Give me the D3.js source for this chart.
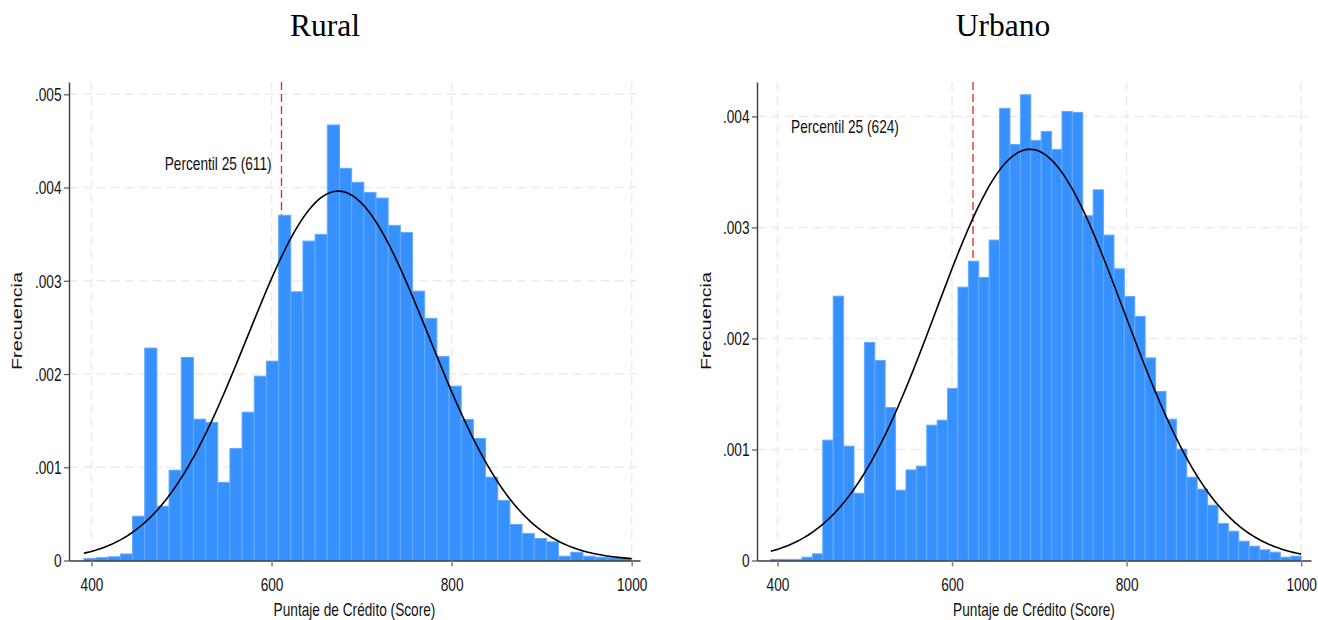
<!DOCTYPE html>
<html><head><meta charset="utf-8">
<script src="https://cdn.jsdelivr.net/npm/d3@7"></script>
<style>body{margin:0;background:#fff;} svg{display:block;background:#fff;}</style>
</head><body><svg id="chart" width="1318" height="620"></svg>
<script>
// ---------------- DATA ----------------
const panelTitles = ["Rural", "Urbano"];
const xTickValues = [400, 600, 800, 1000];
const ruralYTicks = [0, 0.001, 0.002, 0.003, 0.004, 0.005];
const urbanYTicks = [0, 0.001, 0.002, 0.003, 0.004];
const ruralBinStart = 391.5, ruralBinWidth = 13.52;
const urbanBinStart = 392.3, urbanBinWidth = 11.916;
const ruralDensity = [0.00002,0.00003,0.00004,0.00007,0.000475,0.002278,0.000583,0.000969,0.002178,0.001516,
  0.001481,0.000837,0.001202,0.001591,0.001977,0.002138,0.003702,0.002882,0.003426,0.003498,
  0.004671,0.004206,0.004056,0.003948,0.003887,0.003594,0.003519,0.002889,0.002597,0.002189,
  0.00187,0.001513,0.001309,0.000894,0.000644,0.000386,0.00029,0.000236,0.0002,0.000046,
  0.000089,0.000046,0.000035,0.00003,0.00002];
const urbanDensity = [0.00001,0.00001,0.00001,0.00003,0.00006,0.001084,0.002381,0.00103,0.000606,0.001964,
  0.001802,0.001378,0.000633,0.000816,0.00085,0.001219,0.001264,0.00155,0.002462,0.002696,
  0.00255,0.002886,0.004072,0.003748,0.004195,0.003784,0.003865,0.003703,0.004045,0.004036,
  0.003105,0.003339,0.002931,0.002627,0.002378,0.002198,0.001825,0.001523,0.001273,0.001003,
  0.00075,0.000642,0.000498,0.000333,0.000264,0.000174,0.000129,0.000096,0.000075,0.00003,0.000039];
const percentile25 = [611, 624];
const percentileLabels = ["Percentil 25 (611)", "Percentil 25 (624)"];
const normalMean = [674, 689.2];
const normalSD = [100.7, 107.7];
const xAxisTitle = "Puntaje de Crédito (Score)";
const yAxisTitle = "Frecuencia";

// ---------------- LAYOUT ----------------
const panels = [
  { title: panelTitles[0], bins: ruralDensity, start: ruralBinStart, width: ruralBinWidth, yTicks: ruralYTicks,
    p25: percentile25[0], label: percentileLabels[0], mean: normalMean[0], sd: normalSD[0],
    left: 69, right: 640, xDom: [375, 1009.2], yMax: 0.005132, titleX: 325, yTitleX: 21.5,
    labelPos: [600, 0.004193], labelAnchor: "end" },
  { title: panelTitles[1], bins: urbanDensity, start: urbanBinStart, width: urbanBinWidth, yTicks: urbanYTicks,
    p25: percentile25[1], label: percentileLabels[1], mean: normalMean[1], sd: normalSD[1],
    left: 757, right: 1311, xDom: [376.5, 1011.3], yMax: 0.00431, titleX: 1003, yTitleX: 710.5,
    labelPos: [415.5, 0.003851], labelAnchor: "start" }
];
const plotTop = 82, plotBottom = 560.5;
const NARROW = 0.76;
const smallFont = "18px";
const sansFam = "'Liberation Sans', Arial, sans-serif";

const svg = d3.select("#chart");

panels.forEach(p => {
  const g = svg.append("g");
  const x = d3.scaleLinear().domain(p.xDom).range([p.left, p.right]);
  const y = d3.scaleLinear().domain([0, p.yMax]).range([plotBottom, plotTop]);

  // grid
  g.append("g").selectAll("line").data(p.yTicks.filter(v => v > 0)).join("line")
    .attr("x1", p.left).attr("x2", p.right - 3).attr("y1", d => y(d)).attr("y2", d => y(d))
    .attr("stroke", "#ebebeb").attr("stroke-width", 1.5).attr("stroke-dasharray", "9,5");
  g.append("g").selectAll("line").data(xTickValues).join("line")
    .attr("x1", d => x(d)).attr("x2", d => x(d)).attr("y1", plotTop).attr("y2", plotBottom)
    .attr("stroke", "#ebebeb").attr("stroke-width", 1.5).attr("stroke-dasharray", "9,5");

  // percentile line
  g.append("line").attr("x1", x(p.p25)).attr("x2", x(p.p25)).attr("y1", plotTop).attr("y2", plotBottom)
    .attr("stroke", "#e3222a").attr("stroke-width", 1.3).attr("stroke-dasharray", "8,4");

  // bars
  g.append("g").selectAll("rect").data(p.bins).join("rect")
    .attr("x", (d, i) => x(p.start + i * p.width))
    .attr("width", (d, i) => x(p.start + (i + 1) * p.width) - x(p.start + i * p.width))
    .attr("y", d => y(d)).attr("height", d => plotBottom - y(d))
    .attr("fill", "#3691ff").attr("stroke", "#64a9ff").attr("stroke-width", 1);

  // normal curve (fitted normal density from mean and sd)
  const lo = p.start, hi = p.start + p.bins.length * p.width;
  const pts = d3.range(0, 201).map(i => lo + (hi - lo) * i / 200);
  const dens = v => Math.exp(-0.5 * ((v - p.mean) / p.sd) ** 2) / (p.sd * Math.sqrt(2 * Math.PI));
  g.append("path").datum(pts)
    .attr("d", d3.line().x(v => x(v)).y(v => y(dens(v))))
    .attr("fill", "none").attr("stroke", "#000").attr("stroke-width", 1.6);

  // axes
  const xAxis = g.append("g").attr("transform", `translate(0,${plotBottom})`)
    .call(d3.axisBottom(x).tickValues(xTickValues).tickSize(6).tickSizeOuter(0).tickFormat(d3.format("d")));
  xAxis.select(".domain").attr("stroke", "#3a3a3a").attr("stroke-width", 1.4);
  xAxis.selectAll(".tick line").attr("stroke", "#888").attr("stroke-width", 1.6);
  xAxis.selectAll(".tick text").attr("x", null).attr("y", null).attr("dy", null)
    .attr("transform", `translate(0,30.8) scale(${NARROW},1)`)
    .attr("font-family", sansFam).attr("font-size", smallFont).attr("fill", "#111")
    .attr("text-anchor", "middle");

  const yAxis = g.append("g").attr("transform", `translate(${p.left},0)`)
    .call(d3.axisLeft(y).tickValues(p.yTicks).tickSize(5).tickSizeOuter(0)
      .tickFormat(v => v === 0 ? "0" : d3.format(".3f")(v).replace(/^0/, "")));
  yAxis.select(".domain").attr("stroke", "#3a3a3a").attr("stroke-width", 1.4);
  yAxis.selectAll(".tick line").attr("stroke", "#555").attr("stroke-width", 1.2);
  yAxis.selectAll(".tick text").attr("x", null).attr("y", null).attr("dy", null)
    .attr("transform", `translate(-7.5,6.4) scale(${NARROW},1)`)
    .attr("font-family", sansFam).attr("font-size", smallFont).attr("fill", "#111")
    .attr("text-anchor", "end");

  // percentile label
  g.append("text").attr("transform", `translate(${x(p.labelPos[0])},${y(p.labelPos[1])}) scale(${NARROW},1)`)
    .attr("text-anchor", p.labelAnchor).attr("font-family", sansFam).attr("font-size", smallFont)
    .attr("fill", "#111").text(p.label);

  // axis titles
  g.append("text").attr("transform", `translate(${(p.left + p.right) / 2},615.5) scale(${NARROW},1)`)
    .attr("text-anchor", "middle").attr("font-family", sansFam).attr("font-size", smallFont)
    .attr("fill", "#111").text(xAxisTitle);
  g.append("text").attr("transform", `translate(${p.yTitleX},321) rotate(-90)`)
    .attr("text-anchor", "middle").attr("font-family", sansFam).attr("font-size", "14px")
    .attr("textLength", 98).attr("lengthAdjust", "spacingAndGlyphs")
    .attr("fill", "#111").text(yAxisTitle);

  // title
  g.append("text").attr("x", p.titleX).attr("y", 36).attr("text-anchor", "middle")
    .attr("font-family", "'Liberation Serif', 'Times New Roman', serif").attr("font-size", "31.5px")
    .attr("fill", "#000").text(p.title);
});
</script>
</body></html>
